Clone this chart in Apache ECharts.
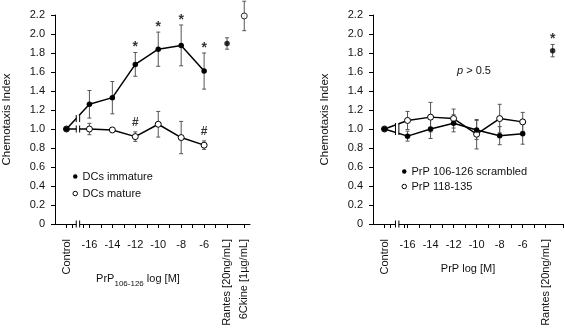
<!DOCTYPE html>
<html>
<head>
<meta charset="utf-8">
<script src="https://cdn.jsdelivr.net/npm/echarts@6/dist/echarts.min.js"></script>
<style>html,body{margin:0;padding:0;background:#fff}#chart{width:565px;height:332px}</style>
</head>
<body>
<div id="chart"></div>
<script>
// x = log [M]; control and chemokines sit on the same axis
var doses = [-18, -16, -14, -12, -10, -8, -6];
var doseTicks = [-16, -14, -12, -10, -8, -6];

// left panel: PrP106-126 on DCs
var immature = [1.00, 1.26, 1.33, 1.68, 1.84, 1.88, 1.61];
var immatureErr = [0, 0.145, 0.17, 0.125, 0.18, 0.215, 0.19];
var mature = [1.00, 1.00, 0.99, 0.92, 1.05, 0.91, 0.83];
var matureErr = [0, 0.06, 0, 0.05, 0.135, 0.17, 0.045];
var rantesLeft = [-4, 1.90, 0.06];
var ckineLeft = [-2.5, 2.19, 0.155];
var starDosesLeft = [-12, -10, -8, -6];
var hashDosesLeft = [-12, -6];
var leftSpecial = [[-18, 'Control'], [-4, 'Rantes [20ng/mL]'], [-2.5, '6Ckine [1µg/mL]']];
var leftTicks = [-18, -17.5, -16.5, -16, -15, -14, -13, -12, -11, -10, -9, -8, -7, -6, -5, -4, -2.5];
var leftBreaks = [[-17, 1.11], [-17, 1.0]];

// right panel: control peptides
var scrambled = [1.00, 0.925, 1.00, 1.06, 0.99, 0.93, 0.95];
var scrambledErr = [0, 0.052, 0.1, 0.09, 0.1, 0.095, 0.11];
var prp118 = [1.00, 1.09, 1.125, 1.11, 0.945, 1.11, 1.075];
var prp118Err = [0, 0.095, 0.155, 0.10, 0.155, 0.15, 0.10];
var rantesRight = [-3.4, 1.825, 0.065];
var rightSpecial = [[-18, 'Control'], [-4, 'Rantes [20ng/mL]']];
var rightTicks = [-18, -17.5, -16.3, -16, -15, -14, -13, -12, -11, -10, -9, -8, -7, -6, -5, -4, -2.5];
var rightBreaks = [[-16.9, 1.0]];

var FONT = "'Liberation Sans', Arial, sans-serif";
var chart = echarts.init(document.getElementById('chart'));

function pairs(ys) { return doses.map(function (d, i) { return [d, ys[i]]; }); }
function errs(ys, es) { return doses.map(function (d, i) { return [d, ys[i], es[i]]; }); }
function marks(list, ys, es, sym) {
    return list.map(function (d) { var i = doses.indexOf(d); return [d, ys[i] + es[i], sym]; });
}

function errItem(params, api) {
    var x = api.value(0), y = api.value(1), e = api.value(2);
    if (!e) return null;
    var t = api.coord([x, y + e]), b = api.coord([x, y - e]);
    var st = { stroke: '#555', lineWidth: 1 };
    return { type: 'group', children: [
        { type: 'line', shape: { x1: t[0], y1: t[1], x2: b[0], y2: b[1] }, style: st },
        { type: 'line', shape: { x1: t[0] - 2, y1: t[1], x2: t[0] + 2, y2: t[1] }, style: st },
        { type: 'line', shape: { x1: b[0] - 2, y1: b[1], x2: b[0] + 2, y2: b[1] }, style: st }
    ] };
}

function breakItem(h) {
    return function (params, api) {
        var p = api.coord([api.value(0), api.value(1)]);
        var st = { stroke: '#000', lineWidth: 1 };
        return { type: 'group', children: [
            { type: 'rect', shape: { x: p[0] - 1.5, y: p[1] - h, width: 3, height: 2 * h }, style: { fill: '#fff' } },
            { type: 'line', shape: { x1: p[0] - 1.7, y1: p[1] - h, x2: p[0] - 1.7, y2: p[1] + h }, style: st },
            { type: 'line', shape: { x1: p[0] + 1.7, y1: p[1] - h, x2: p[0] + 1.7, y2: p[1] + h }, style: st }
        ] };
    };
}

function yAxis(gridIndex, gap) {
    return {
        gridIndex: gridIndex, type: 'value', min: 0, max: 2.2, interval: 0.2,
        name: 'Chemotaxis Index', nameLocation: 'middle', nameGap: gap,
        nameTextStyle: { fontFamily: FONT, fontSize: 11.5, color: '#111' },
        axisLine: { show: true, lineStyle: { color: '#000', width: 1 } },
        axisTick: { show: true, length: 4, lineStyle: { color: '#000' } },
        axisLabel: { margin: 10, fontFamily: FONT, fontSize: 11, color: '#111',
            formatter: function (v) { return v === 0 ? '0' : v.toFixed(1); } },
        splitLine: { show: false }
    };
}

function xNum(gridIndex, min, max, ticks, name, nameStyle, gap) {
    return {
        gridIndex: gridIndex, type: 'value', min: min, max: max, position: 'bottom',
        name: name, nameLocation: 'middle', nameGap: gap, nameTextStyle: nameStyle,
        axisLine: { show: true, onZero: false, lineStyle: { color: '#000', width: 1 } },
        axisTick: { show: true, length: 4, customValues: ticks, lineStyle: { color: '#000' } },
        axisLabel: { margin: 15, customValues: doseTicks, fontFamily: FONT, fontSize: 11, color: '#111' },
        splitLine: { show: false }
    };
}

function xSpecial(gridIndex, min, max, special) {
    return {
        gridIndex: gridIndex, type: 'value', min: min, max: max, position: 'bottom',
        axisLine: { show: false }, axisTick: { show: false }, splitLine: { show: false },
        axisLabel: {
            rotate: 90, margin: 15, fontFamily: FONT, fontSize: 11, color: '#111',
            customValues: special.map(function (s) { return s[0]; }),
            formatter: function (v) {
                for (var i = 0; i < special.length; i++) if (Math.abs(special[i][0] - v) < 1e-6) return special[i][1];
                return '';
            }
        }
    };
}

function lineSeries(name, xi, yi, data, open) {
    return {
        name: name, type: 'line', xAxisIndex: xi, yAxisIndex: yi, data: data, z: open ? 3 : 4,
        symbol: 'circle', symbolSize: open ? 6 : 5.5,
        lineStyle: { color: '#000', width: 1.5 },
        itemStyle: open ? { color: '#fff', borderColor: '#000', borderWidth: 1 } : { color: '#000' }
    };
}

function pointSeries(name, xi, yi, pt, open) {
    return {
        name: name, type: 'scatter', xAxisIndex: xi, yAxisIndex: yi, data: [[pt[0], pt[1]]], z: 4,
        symbol: 'circle', symbolSize: open ? 6 : 5.5,
        itemStyle: open ? { color: '#fff', borderColor: '#000', borderWidth: 1 } : { color: '#000' }
    };
}

function errSeries(xi, yi, data) {
    return { type: 'custom', xAxisIndex: xi, yAxisIndex: yi, data: data, z: 1,
        renderItem: errItem, encode: { x: 0, y: 1 }, silent: true };
}

function breakSeries(xi, yi, data, h) {
    return { type: 'custom', xAxisIndex: xi, yAxisIndex: yi, data: data, z: 5,
        renderItem: breakItem(h), encode: { x: 0, y: 1 }, silent: true };
}

function markSeries(xi, yi, data, size, lift) {
    return {
        type: 'scatter', xAxisIndex: xi, yAxisIndex: yi, data: data, symbolSize: 0, z: 5, silent: true,
        label: { show: true, position: 'inside', offset: [0, -lift], fontFamily: FONT, fontSize: size,
            fontWeight: 'bold', color: '#000', formatter: function (p) { return p.data[2]; } }
    };
}

var legendText = { fontFamily: FONT, fontSize: 11, color: '#111' };
var openIcon = { color: '#fff', borderColor: '#000', borderWidth: 1 };

var option = {
    animation: false,
    backgroundColor: '#fff',
    grid: [
        { left: 54, top: 15, width: 196, height: 209 },
        { left: 373, top: 15, width: 190, height: 209 }
    ],
    xAxis: [
        xNum(0, -19, -2, leftTicks, 'PrP{s|106-126} log [M]',
            { fontFamily: FONT, fontSize: 11, color: '#111', padding: [0, 29, 0, 0],
              rich: { s: { fontSize: 8, padding: [10, 0, 0, 0] } } }, 46),
        xSpecial(0, -19, -2, leftSpecial),
        xNum(1, -19, -2.5, rightTicks, 'PrP log [M]',
            { fontFamily: FONT, fontSize: 11, color: '#111' }, 39),
        xSpecial(1, -19, -2.5, rightSpecial)
    ],
    yAxis: [yAxis(0, 42), yAxis(1, 42)],
    legend: [
        { orient: 'vertical', left: 67.5, top: 166, icon: 'circle', itemWidth: 4.5, itemHeight: 4.5, itemGap: 6,
          textStyle: legendText,
          data: [{ name: 'DCs immature', itemStyle: { color: '#000' } }, { name: 'DCs mature', itemStyle: openIcon }] },
        { orient: 'vertical', left: 396.5, top: 161, icon: 'circle', itemWidth: 4.5, itemHeight: 4.5, itemGap: 4,
          textStyle: legendText,
          data: [{ name: 'PrP 106-126 scrambled', itemStyle: { color: '#000' } }, { name: 'PrP 118-135', itemStyle: openIcon }] }
    ],
    graphic: [{
        type: 'text', left: 457, top: 65,
        style: { text: '{i|p} > 0.5', font: '11px ' + FONT, fill: '#111',
            rich: { i: { fontStyle: 'italic', fontFamily: FONT, fontSize: 11 } } }
    }],
    series: [
        errSeries(0, 0, errs(immature, immatureErr)),
        errSeries(0, 0, errs(mature, matureErr)),
        errSeries(0, 0, [rantesLeft, ckineLeft]),
        lineSeries('DCs immature', 0, 0, pairs(immature), false),
        lineSeries('DCs mature', 0, 0, pairs(mature), true),
        pointSeries('Rantes', 0, 0, rantesLeft, false),
        pointSeries('6Ckine', 0, 0, ckineLeft, true),
        breakSeries(0, 0, leftBreaks, 3.5),
        breakSeries(0, 0, [[-17, 0]], 3.5),
        markSeries(0, 0, marks(starDosesLeft, immature, immatureErr, '*'), 14, 5),
        markSeries(0, 0, marks(hashDosesLeft, mature, matureErr, '#'), 12, 9),

        errSeries(2, 1, errs(scrambled, scrambledErr)),
        errSeries(2, 1, errs(prp118, prp118Err)),
        errSeries(2, 1, [rantesRight]),
        lineSeries('PrP 106-126 scrambled', 2, 1, pairs(scrambled), false),
        lineSeries('PrP 118-135', 2, 1, pairs(prp118), true),
        pointSeries('Rantes ', 2, 1, rantesRight, false),
        breakSeries(2, 1, rightBreaks, 6),
        breakSeries(2, 1, [[-16.9, 0]], 3.5),
        markSeries(2, 1, [[rantesRight[0], rantesRight[1] + rantesRight[2], '*']], 14, 5)
    ]
};

chart.setOption(option);
</script>
</body>
</html>
